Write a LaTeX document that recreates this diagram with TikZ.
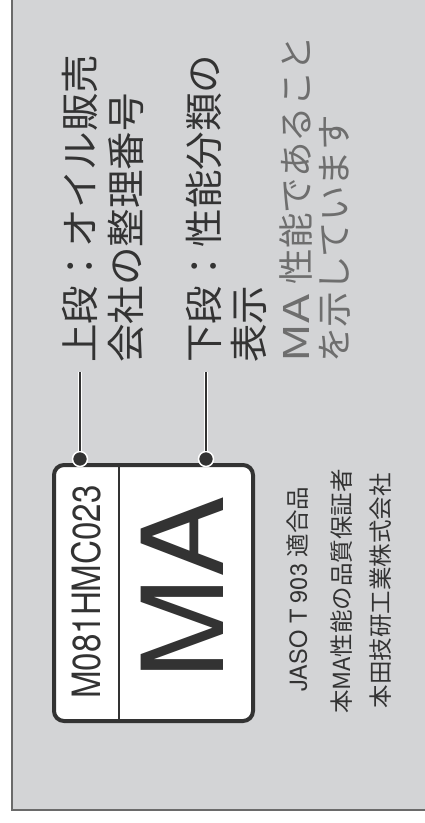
\documentclass[tikz,border=0pt]{standalone}
\usepackage{fontspec}
\setmainfont{TeX Gyre Heros}
\newfontfamily\jp{Noto Sans CJK JP}
\newfontfamily\cond[FakeStretch=0.85]{TeX Gyre Heros}
\definecolor{bgcol}{HTML}{D3D4D6}
\definecolor{framecol}{HTML}{6A6A6A}
\definecolor{ink}{HTML}{333333}
\definecolor{lightink}{HTML}{6E6E6E}
\tikzset{
  toptext/.style={rotate=90, anchor=west, inner sep=0pt, text=ink, font=\jp\fontsize{38.5}{38.5}\selectfont},
  graytext/.style={rotate=90, anchor=west, inner sep=0pt, text=lightink, font=\jp\fontsize{35.5}{35.5}\selectfont},
  smalltext/.style={rotate=90, inner sep=0pt, text=ink, font=\fontsize{23.5}{23.5}\selectfont},
  labelbox/.style={draw=ink, fill=white, line width=4pt, rounded corners=10pt, minimum width=199pt, minimum height=256pt, inner sep=0pt},
  dotnode/.style={circle, fill=ink, draw=white, line width=1.5pt, minimum size=15pt, inner sep=0pt},
  connector/.style={draw=white, double=ink, double distance=2pt, line width=1pt},
}
\begin{document}
\begin{tikzpicture}[x=1pt,y=-1pt]
\useasboundingbox (0,0) rectangle (424,823);
\fill[bgcol] (12,-5) rectangle (430,810);
\draw[framecol, line width=1.5pt] (12,-5) -- (12,810) -- (430,810);

% label plate
\node[labelbox] (plate) at (153.5,593) {};
\coordinate (divtop) at (119,465);
\coordinate (divbot) at (119,721);
\draw[ink, line width=2pt] (divtop) -- (divbot);

\node[rotate=90, inner sep=0pt, text=ink, font=\cond\fontsize{39}{39}\selectfont] (code) at (86,592) {M081HMC023};
\node[rotate=90, inner sep=0pt, text=ink, font=\fontsize{113}{113}\selectfont] (grade) at (182,588) {\scalebox{1.08}[1]{MA}};

% connectors
\coordinate (c1) at (80,372);
\coordinate (c2) at (206,372);
\node[dotnode] (d1) at (80,459) {};
\node[dotnode] (d2) at (206,459) {};
\draw[connector] (c1) -- (d1);
\draw[connector] (c2) -- (d2);

% top texts
\node[toptext] (t1a) at (80,363) {上段：オイル販売};
\node[toptext] (t1b) at (126,363) {会社の整理番号};
\node[toptext] (t2a) at (204,363) {下段：性能分類の};
\node[toptext] (t2b) at (249,363) {表示};
\node[graytext] (t3a) at (296,363) {\scalebox{1.35}[1]{MA}\hspace{0.3em}性能であること};
\node[graytext] (t3b) at (335,363) {を示しています};

% bottom texts
\node[smalltext] (b1) at (298,589) {JASO T 903 {\jp 適合品}};
\node[smalltext, font=\jp\fontsize{23.5}{23.5}\selectfont] (b2) at (342,591.5) {本MA性能の品質保証者};
\node[smalltext, font=\jp\fontsize{23.5}{23.5}\selectfont] (b3) at (381,590.5) {本田技研工業株式会社};
\end{tikzpicture}
\end{document}
